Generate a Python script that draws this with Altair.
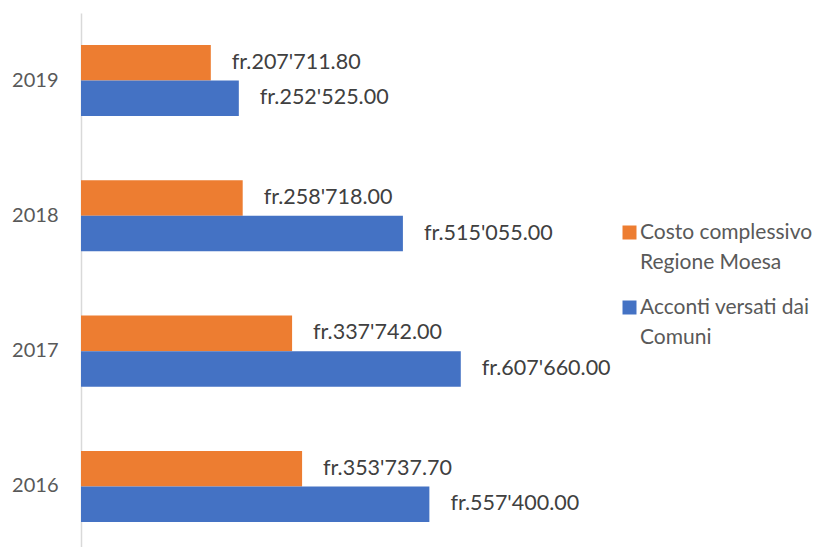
import altair as alt
import pandas as pd

years = ["2019", "2018", "2017", "2016"]
costo = [207711.80, 258718.00, 337742.00, 353737.70]
acconti = [252525.00, 515055.00, 607660.00, 557400.00]
series = ["Costo complessivo Regione Moesa", "Acconti versati dai Comuni"]
colors = ["#ED7D31", "#4472C4"]

rows = []
for yr, c, a in zip(years, costo, acconti):
    rows.append({"year": yr, "series": series[0], "value": c})
    rows.append({"year": yr, "series": series[1], "value": a})
df = pd.DataFrame(rows)
df["label"] = df["value"].map(lambda v: "fr." + f"{v:,.2f}".replace(",", "'"))

FONT = "Lato"

y_enc = alt.Y(
    "year:N",
    sort=years,
    title=None,
    scale=alt.Scale(paddingInner=0.475, paddingOuter=0.211, align=0.561),
    axis=alt.Axis(
        ticks=False,
        domain=True,
        domainColor="#D9D9D9",
        domainWidth=1.5,
        labelFont=FONT,
        labelFontSize=20,
        labelColor="#595959",
        labelPadding=23,
        grid=False,
    ),
)
yoff = alt.YOffset("series:N", sort=series, scale=alt.Scale(domain=series, paddingInner=0, paddingOuter=0))
x_enc = alt.X("value:Q", scale=alt.Scale(domain=[0, 700000], nice=False, zero=True), axis=None)
color = alt.Color(
    "series:N",
    sort=series,
    scale=alt.Scale(domain=series, range=colors),
    legend=alt.Legend(
        title=None,
        orient="none",
        legendX=538,
        legendY=209,
        padding=0,
        symbolType="square",
        symbolSize=196,
        symbolStrokeWidth=0,
        symbolOpacity=1,
        labelFont=FONT,
        labelFontSize=21,
        labelColor="#595959",
        labelOffset=0,
        labelLimit=400,
        rowPadding=23,
        labelExpr="datum.label == 'Costo complessivo Regione Moesa' ? ['Costo complessivo', 'Regione Moesa'] : ['Acconti versati dai', 'Comuni']",
    ),
)

bars = alt.Chart(df).mark_bar(strokeWidth=0).encode(x=x_enc, y=y_enc, yOffset=yoff, color=color)
texts = alt.Chart(df).mark_text(
    align="left", baseline="middle", dx=21, fontSize=21.5, font=FONT, color="#404040"
).encode(x=x_enc, y=y_enc, yOffset=yoff, text="label:N")

chart = (
    alt.layer(bars, texts)
    .properties(
        width=437.5,
        height=534,
        autosize=alt.AutoSizeParams(type="none"),
        padding={"left": 73, "top": 5, "right": 295.5, "bottom": 0},
        background="white",
    )
    .configure(style={"guide-label": {"lineHeight": 30}})
    .configure_view(stroke=None)
)

chart.save("out.html", embed_options={"renderer": "svg", "actions": False})
